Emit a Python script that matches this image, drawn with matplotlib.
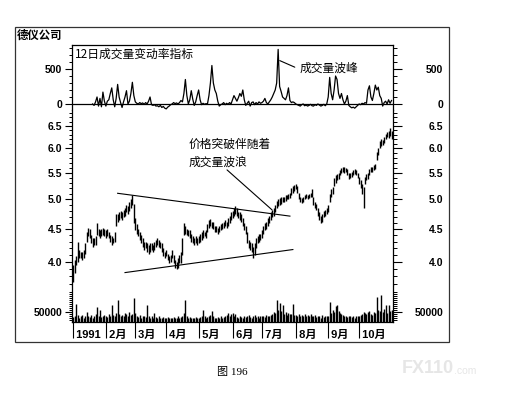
import numpy as np
import pandas as pd
import matplotlib
matplotlib.use("Agg")
import matplotlib.pyplot as plt
from matplotlib.ticker import NullFormatter
from matplotlib.patches import Rectangle

plt.rcParams['font.family'] = ['Noto Sans CJK SC', 'DejaVu Sans']

nan = np.nan
start_date = '1991-01-02'

# daily high / low prices (trading days from 1991-01-02)
high = [
    3.95, 4.02, 4.08, 4.30, 4.18, 4.15, 4.15, 4.18, 4.28, 4.45,
    4.52, 4.50, 4.40, 4.35, 4.35, 4.38, 4.60, 4.50, 4.48, 4.50,
    4.52, 4.50, 4.48, 4.50, 4.45, 4.40, 4.38, 4.36, 4.45, 4.75,
    4.75, 4.78, 4.80, 4.78, 4.82, 4.84, 4.90, 4.88, 4.95, 5.00,
    5.08, 4.92, 4.68, 4.58, 4.50, 4.45, 4.40, 4.35, 4.30, 4.30,
    4.28, 4.25, 4.28, 4.28, 4.25, 4.30, 4.32, 4.35, 4.32, 4.30,
    4.28, 4.20, 4.15, 4.18, 4.12, 4.08, 4.10, 4.18, 4.10, 4.02,
    4.00, 4.05, 4.10, 4.15, 4.35, 4.60, 4.55, 4.50, 4.48, 4.48,
    4.42, 4.38, 4.35, 4.38, 4.35, 4.38, 4.42, 4.45, 4.48, 4.45,
    4.48, 4.58, 4.65, 4.66, 4.62, 4.62, 4.55, 4.55, 4.52, 4.55,
    4.58, 4.60, 4.62, 4.65, 4.62, 4.68, 4.72, 4.78, 4.80, 4.85,
    4.88, 4.85, 4.78, 4.78, 4.75, 4.68, 4.60, 4.55, 4.45, 4.32,
    4.30, 4.28, 4.22, 4.28, 4.35, 4.38, 4.42, 4.42, 4.48, 4.55,
    4.60, 4.62, 4.68, 4.72, 4.78, 4.82, 4.85, 4.90, 4.98, 5.00,
    5.02, 5.04, 5.05, 5.05, 5.07, 5.08, 5.10, 5.12, 5.20, 5.25,
    5.26, 5.28, 5.24, 5.12, 5.05, 5.02, 5.05, 5.08, 5.10, 5.08,
    5.10, 5.12, 5.18, 5.05, 4.95, 4.92, 4.85, 4.78, 4.72, 4.75,
    4.80, 4.82, 4.85, 4.90, 5.10, 5.18, 5.22, 5.40, 5.45, 5.48,
    5.50, 5.56, 5.60, 5.62, 5.62, 5.60, 5.58, 5.50, 5.50, 5.52,
    5.55, 5.58, 5.55, 5.50, 5.42, 5.35, 5.28, 5.22, 5.42, 5.48,
    5.50, 5.58, 5.62, 5.62, 5.65, 5.68, 5.92, 6.00, 6.15, 6.20,
    6.18, 6.25, 6.32, 6.35, 6.38, 6.45, 6.38,
]
low = [
    3.72, 3.85, 3.95, 4.00, 4.05, 4.05, 4.02, 4.05, 4.12, 4.30,
    4.38, 4.35, 4.28, 4.22, 4.25, 4.25, 4.40, 4.38, 4.35, 4.38,
    4.40, 4.38, 4.35, 4.38, 4.35, 4.30, 4.25, 4.28, 4.30, 4.55,
    4.62, 4.65, 4.68, 4.65, 4.70, 4.72, 4.78, 4.75, 4.80, 4.85,
    4.90, 4.60, 4.48, 4.42, 4.38, 4.32, 4.28, 4.22, 4.18, 4.20,
    4.15, 4.12, 4.15, 4.18, 4.15, 4.18, 4.22, 4.25, 4.22, 4.20,
    4.15, 4.08, 4.05, 4.08, 4.02, 3.98, 4.00, 4.05, 3.98, 3.92,
    3.90, 3.92, 3.98, 3.98, 4.10, 4.40, 4.42, 4.40, 4.38, 4.35,
    4.30, 4.28, 4.25, 4.28, 4.25, 4.28, 4.30, 4.32, 4.35, 4.38,
    4.35, 4.45, 4.52, 4.55, 4.52, 4.50, 4.45, 4.45, 4.42, 4.45,
    4.48, 4.50, 4.52, 4.55, 4.52, 4.55, 4.60, 4.65, 4.68, 4.72,
    4.75, 4.72, 4.68, 4.65, 4.62, 4.55, 4.48, 4.42, 4.28, 4.20,
    4.18, 4.15, 4.05, 4.10, 4.20, 4.28, 4.30, 4.32, 4.35, 4.42,
    4.48, 4.50, 4.55, 4.60, 4.65, 4.70, 4.72, 4.78, 4.85, 4.88,
    4.90, 4.92, 4.95, 4.95, 4.97, 5.00, 5.00, 5.02, 5.08, 5.12,
    5.15, 5.18, 5.12, 5.00, 4.95, 4.93, 4.95, 5.00, 5.02, 5.00,
    5.02, 5.04, 5.05, 4.90, 4.85, 4.82, 4.72, 4.65, 4.60, 4.62,
    4.70, 4.72, 4.75, 4.78, 4.95, 5.05, 5.10, 5.25, 5.30, 5.35,
    5.38, 5.45, 5.50, 5.52, 5.50, 5.52, 5.45, 5.38, 5.40, 5.42,
    5.45, 5.48, 5.45, 5.40, 5.28, 5.20, 5.10, 4.85, 5.28, 5.35,
    5.38, 5.45, 5.52, 5.52, 5.55, 5.58, 5.75, 5.85, 6.00, 6.05,
    6.08, 6.12, 6.20, 6.25, 6.22, 6.28, 6.20,
]
# daily volume, in thousands of shares
volume_k = [
    25, 30, 90, 35, 22, 28, 35, 20, 30, 52, 28, 25, 35, 22, 30, 40, 75, 30, 60, 25, 28, 35,
    30, 25, 40, 28, 85, 35, 30, 45, 110, 40, 28, 35, 30, 45, 38, 30, 50, 35, 40, 120,
    45, 30, 25, 35, 22, 28, 30, 25, 85, 28, 22, 30, 20, 45, 25, 20, 28, 18, 22, 25, 20,
    20, 25, 18, 22, 20, 25, 18, 22, 28, 20, 25, 30, 45, 110, 30, 22, 25, 20, 18, 22, 25, 20,
    22, 25, 30, 60, 28, 22, 25, 30, 35, 55, 28, 22, 20, 25, 22, 28, 20, 25, 30, 35, 45, 30, 42,
    45, 28, 40, 25, 22, 30, 25, 20, 28, 25, 30, 35, 25, 22, 30, 35, 25, 28, 22, 30,
    28, 30, 25, 35, 28, 30, 35, 40, 50, 45, 110, 60, 95, 55, 85, 40, 50, 35, 45, 38, 42, 90, 35,
    35, 30, 38, 32, 35, 28, 40, 30, 35, 32, 38, 30, 28, 35, 25, 30, 28, 22, 35, 25, 30, 28,
    30, 100, 45, 60, 50, 80, 85, 55, 45, 40, 35, 30, 28, 25, 30, 28, 25, 30, 22, 28, 30,
    28, 35, 40, 50, 45, 38, 48, 55, 40, 35, 50, 45, 125, 60, 55, 135, 50, 65, 85, 45, 85, 55, 60,
]
# 12-day volume rate of change (%)
roc = [
    nan, nan, nan, nan, nan, nan, nan, nan, nan, nan,
    nan, nan, nan, 0, -20, 30, 100, -30, 80, -40,
    170, 40, -30, 40, 60, 150, 230, 60, -40, 80,
    280, 100, 20, -50, 30, 100, 190, 0, 40, 150,
    310, 120, 30, 10, 0, 20, 5, 15, -5, 20,
    0, 40, 100, -10, -20, -10, -30, -25, -40, -20,
    -50, -35, -60, -70, -45, -30, -10, 0, 20, 5,
    15, 0, 20, 50, 30, 150, 350, 120, 0, 60,
    190, 70, -20, 30, 120, 200, 60, -10, 10, -5,
    5, 0, 120, 300, 550, 300, 200, 150, 40, -30,
    -10, 0, 20, -10, 10, -5, 20, 0, 60, 120,
    80, 40, 90, 150, 110, 200, 60, -20, 10, 40,
    -30, 20, 30, -10, 20, 0, 30, 10, 20, 40,
    80, 20, 0, 30, 60, 100, 150, 200, 300, 780,
    250, 180, 100, 80, 60, 120, 230, 50, 20, 30,
    20, 0, -10, -20, -30, -10, 0, -25, -15, -30,
    -20, -5, -25, -30, -10, -20, 0, -15, -30, -20,
    -5, -25, 0, 100, 380, 150, 60, 200, 400, 350,
    150, 80, 150, 60, 0, 40, 120, -20, -40, -55,
    -45, -60, -40, -20, 0, -10, 10, 0, 20, 10,
    200, 260, 100, 50, 150, 270, 200, 240, 120, 80,
    -30, 20, 40, 0, 60, 10, 50,
]

trend_upper_dates = ['1991-02-13', '1991-07-26']
trend_upper_vals = [5.11, 4.71]
trend_lower_dates = ['1991-02-20', '1991-07-30']
trend_lower_vals = [3.85, 4.18]

title = '德仪公司'
roc_title = '12日成交量变动率指标'
peak_note = '成交量波峰'
break_note = ['价格突破伴随着', '成交量波浪']
caption = '图 196'

roc_major = [0, 500]
roc_minor = [100, 200, 300, 400, 600, 700, 800]
price_major = [4.0, 4.5, 5.0, 5.5, 6.0, 6.5]
price_minor = [round(3.7 + 0.1 * i, 1) for i in range(32)]
vol_major = [50000]
vol_minor = [10000 * i for i in range(1, 16) if i != 5]

# ---------------------------------------------------------------
n = len(high)
dates = pd.bdate_range(start_date, periods=n)
x = np.arange(n)
volume = np.array(volume_k) * 1000

month_idx = [i for i in range(n) if i == 0 or dates[i].month != dates[i - 1].month]
month_lbl = [' 1991' if dates[i].month == 1 else f' {dates[i].month}月' for i in month_idx]

W, H = 505, 401
fig = plt.figure(figsize=(W / 100, H / 100), dpi=100)
L = 72 / W
AW = 321 / W
ax_roc = fig.add_axes([L, 1 - 110 / H, AW, 65 / H])
ax_pr = fig.add_axes([L, 1 - 285 / H, AW, 175 / H], sharex=ax_roc)
ax_vol = fig.add_axes([L, 1 - 322 / H, AW, 37 / H], sharex=ax_roc)

tick_font = dict(fontsize=7.5, fontweight='bold', family=['Liberation Sans', 'DejaVu Sans'])

# data
ax_roc.plot(x, roc, color='black', lw=0.9)
ax_roc.axhline(0, color='black', lw=0.9)
ax_pr.vlines(x, low, high, color='black', lw=1.0)
ax_vol.vlines(x, 0, volume, color='black', lw=1.0)

def didx(ds):
    return dates.get_indexer(pd.to_datetime(ds))

ax_pr.plot(didx(trend_upper_dates), trend_upper_vals, color='black', lw=0.8)
ax_pr.plot(didx(trend_lower_dates), trend_lower_vals, color='black', lw=0.8)

ax_pr.set_yscale('log')
ax_roc.set_ylim(-86, 843)
ax_pr.set_ylim(3.683, 6.88)
ax_vol.set_ylim(0, 185000)
ax_vol.set_xlim(-1, n)

def style_axis(ax, major, labels, minor):
    ax.set_yticks(major, labels=labels, **tick_font)
    ax.set_yticks(minor, minor=True)
    ax.yaxis.set_minor_formatter(NullFormatter())
    ax.tick_params(axis='y', which='major', direction='out', length=5, width=0.8, pad=2)
    ax.tick_params(axis='y', which='minor', direction='out', length=2.5, width=0.7)
    axr = ax.twinx()
    axr.set_yscale(ax.get_yscale())
    axr.set_ylim(ax.get_ylim())
    axr.set_yticks(major, labels=labels, ha='right', **tick_font)
    axr.set_yticks(minor, minor=True)
    axr.yaxis.set_minor_formatter(NullFormatter())
    axr.tick_params(axis='y', which='major', direction='out', length=6.5, width=0.8, pad=29.5)
    axr.tick_params(axis='y', which='minor', direction='out', length=3, width=0.7)
    for s in axr.spines.values():
        s.set_visible(False)
    for s in ax.spines.values():
        s.set_linewidth(0.9)
    return axr

style_axis(ax_roc, roc_major, [str(v) for v in roc_major], roc_minor)
style_axis(ax_pr, price_major, [f'{v:.1f}' for v in price_major], price_minor)
style_axis(ax_vol, vol_major, [str(v) for v in vol_major], vol_minor)

ax_roc.spines['bottom'].set_visible(False)
ax_pr.spines['top'].set_visible(False)
ax_pr.spines['bottom'].set_visible(False)
ax_vol.spines['top'].set_visible(False)
for a in (ax_roc, ax_pr):
    a.tick_params(axis='x', which='both', bottom=False, top=False, labelbottom=False)

ax_vol.set_xticks(month_idx, labels=month_lbl, ha='left', fontsize=8, fontweight='bold',
                  family=['Liberation Sans', 'Noto Sans CJK SC'])
ax_vol.tick_params(axis='x', which='major', direction='out', length=11.5, width=0.8, pad=-5.7)
ax_vol.tick_params(axis='x', which='minor', bottom=False)

# annotations
ax_roc.text(0.01, 0.86, roc_title, transform=ax_roc.transAxes, ha='left', va='center', fontsize=8.5)
ipk = int(np.nanargmax(roc))
ax_roc.annotate('', xy=(ipk + 11.3, 526), xytext=(ipk + 1.1, 620),
                arrowprops=dict(arrowstyle='-', lw=0.8, color='black', shrinkA=0, shrinkB=0))
ax_roc.text(ipk + 14.5, 514, peak_note, ha='left', va='center', fontsize=8.5)

ax_pr.annotate('', xy=(134.9, 4.815), xytext=(104.3, 5.555),
               arrowprops=dict(arrowstyle='-', lw=0.8, color='black', shrinkA=0, shrinkB=0))
ax_pr.text(77.9, 6.095, break_note[0], ha='left', va='center', fontsize=8.5)
ax_pr.text(77.9, 5.716, break_note[1], ha='left', va='center', fontsize=8.5)

fig.text(17 / W, 1 - 35 / H, title, ha='left', va='center', fontsize=8.2, fontweight='bold')
fig.text(232 / W, 1 - 372 / H, caption, ha='center', va='center', fontsize=8,
         family=['Liberation Serif', 'Noto Sans CJK SC'])
fig.text(402 / W, 1 - 368.5 / H, 'FX110', ha='left', va='center', fontsize=13,
         fontweight='bold', color='#e6e6e6', family=['Liberation Sans'])
fig.text(454 / W, 1 - 371 / H, '.com', ha='left', va='center', fontsize=7.5,
         color='#e6e6e6', family=['Liberation Sans'])

fig.add_artist(Rectangle((15 / W, 1 - 342 / H), (449 - 15) / W, (342 - 27) / H,
                         transform=fig.transFigure, fill=False, lw=0.9, ec='#333333'))

fig.savefig('out.png', dpi=100)
